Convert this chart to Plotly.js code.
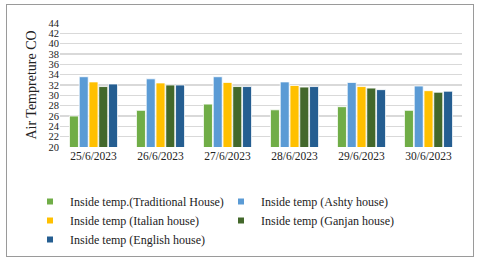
<!DOCTYPE html>
<html>
<head>
<meta charset="utf-8">
<script src="https://cdn.plot.ly/plotly-3.0.1.min.js"></script>
<style>
html,body{margin:0;padding:0;background:#fff;}
#wrap{position:relative;width:480px;height:260px;}
#chart{width:480px;height:260px;}
#frame{position:absolute;left:6px;top:4px;width:466px;height:251px;border:1.5px solid #9A9A9A;pointer-events:none;}
</style>
</head>
<body>
<div id="wrap"><div id="chart"></div><div id="frame"></div></div>
<script>
const dates = ["25/6/2023", "26/6/2023", "27/6/2023", "28/6/2023", "29/6/2023", "30/6/2023"];
const seriesNames = [
  "Inside temp.(Traditional House)",
  "Inside temp (Ashty house)",
  "Inside temp (Italian house)",
  "Inside temp (Ganjan house)",
  "Inside temp (English house)"
];
const traditional = [26.0, 27.1, 28.3, 27.2, 27.8, 27.1];
const ashty       = [33.6, 33.2, 33.6, 32.6, 32.5, 31.8];
const italian     = [32.6, 32.4, 32.5, 31.9, 31.7, 30.9];
const ganjan      = [31.7, 32.0, 31.7, 31.6, 31.4, 30.6];
const english     = [32.2, 32.0, 31.7, 31.7, 31.1, 30.8];
const yTicks = [20, 22, 24, 26, 28, 30, 32, 34, 36, 38, 40, 42, 44];

const colors = ["#70AD47", "#5B9BD5", "#FFC000", "#43682B", "#255E91"];
const values = [traditional, ashty, italian, ganjan, english];

const data = [];
values.forEach((v, i) => {
  data.push({
    type: "bar",
    x: dates,
    y: v,
    name: seriesNames[i],
    showlegend: false,
    marker: {color: colors[i], line: {color: "#ffffff", width: 0.8}},
    hoverinfo: "skip"
  });
});
// legend entries (small square markers like the reference)
values.forEach((v, i) => {
  data.push({
    type: "scatter",
    mode: "markers",
    x: [null],
    y: [null],
    name: seriesNames[i],
    showlegend: true,
    marker: {color: colors[i], symbol: "square", size: 6},
    hoverinfo: "skip"
  });
});

const W = 480, H = 260;
const m = {l: 60, r: 18, t: 23, b: 113, autoexpand: false};
const pw = W - m.l - m.r, ph = H - m.t - m.b;
const px = x => (x - m.l) / pw;
const py = y => (H - m.b - y) / ph;

const layout = {
  width: W, height: H,
  margin: m,
  paper_bgcolor: "#ffffff",
  plot_bgcolor: "#ffffff",
  font: {family: "Liberation Serif, Times New Roman, serif", size: 12, color: "#222"},
  barmode: "group",
  bargap: 0.27,
  bargroupgap: 0.08,
  showlegend: true,
  xaxis: {
    type: "category",
    categoryarray: dates,
    showgrid: false,
    zeroline: false,
    showline: false,
    ticks: "",
    tickfont: {size: 11.5, color: "#222"},
    fixedrange: true
  },
  yaxis: {
    range: [20, 44],
    tickvals: yTicks,
    ticktext: yTicks.map(String),
    showgrid: true,
    gridcolor: "#D9D9D9",
    gridwidth: 1.5,
    zeroline: false,
    showline: false,
    ticks: "",
    tickfont: {size: 10.5, color: "#222"},
    title: {text: "Air Tempreture CO", font: {size: 14, color: "#222"}, standoff: 8},
    fixedrange: true
  },
  legend: {
    orientation: "h",
    x: px(30), xanchor: "left",
    y: py(187), yanchor: "top",
    entrywidth: 146,
    entrywidthmode: "pixels",
    itemwidth: 30,
    font: {size: 12, color: "#222"},
    bgcolor: "rgba(0,0,0,0)",
    traceorder: "normal"
  }
};

Plotly.newPlot("chart", data, layout, {displayModeBar: false, staticPlot: true});
</script>
</body>
</html>
